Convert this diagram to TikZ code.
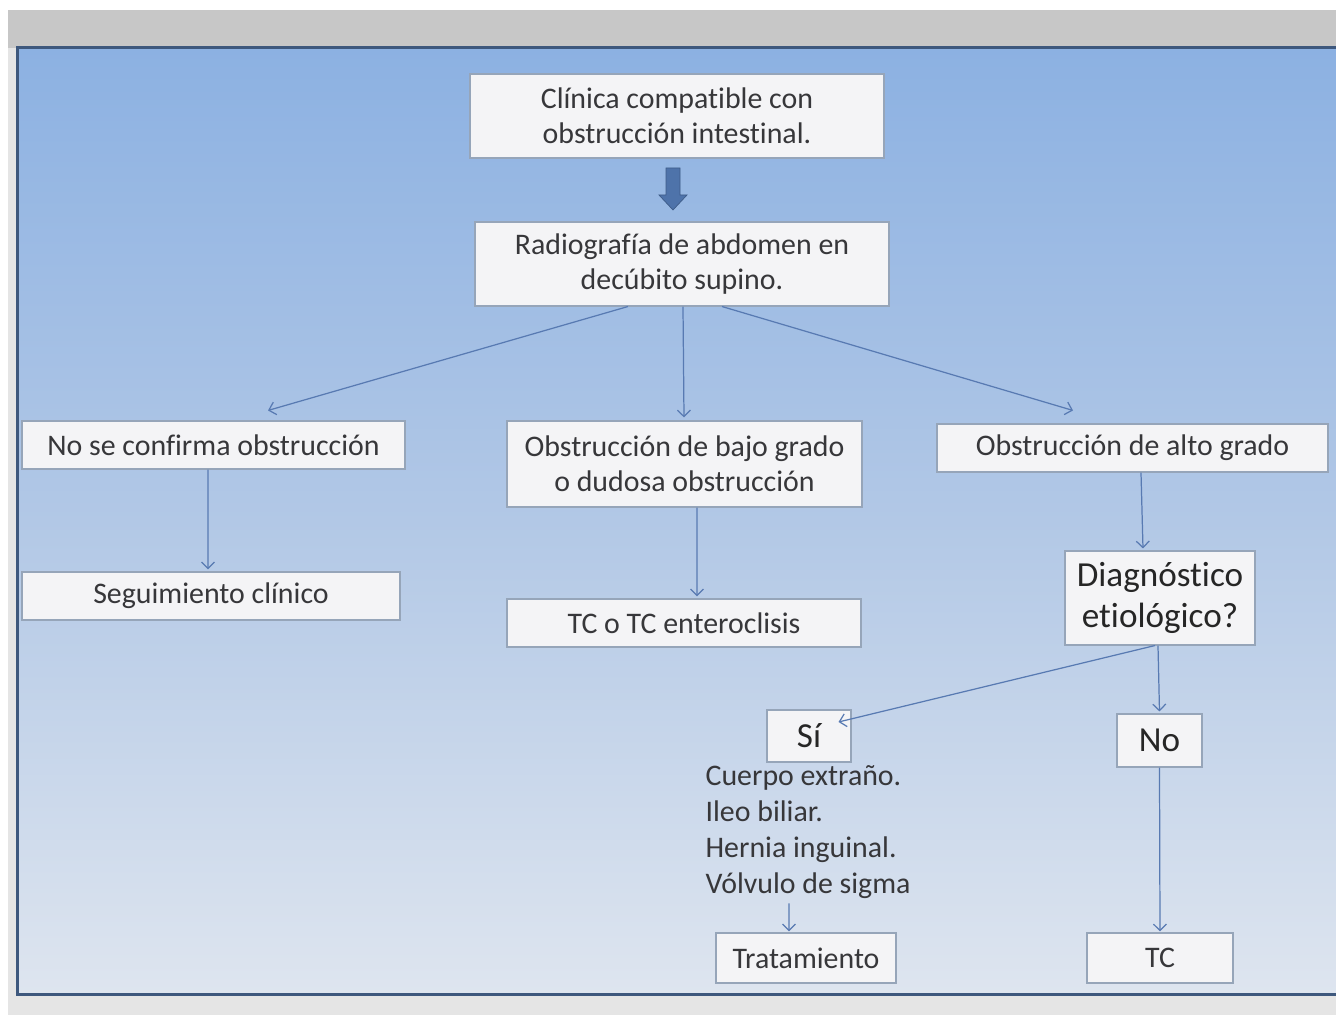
\documentclass[tikz,border=0pt]{standalone}
\usepackage{fontspec}
\setmainfont{Carlito}[Ligatures=NoCommon]
\usetikzlibrary{arrows.meta}
\definecolor{panelTop}{RGB}{140,177,226}
\definecolor{panelMid}{RGB}{178,200,230}
\definecolor{panelBot}{RGB}{222,229,239}
\definecolor{panelLine}{RGB}{62,88,125}
\definecolor{boxFill}{RGB}{244,244,246}
\definecolor{boxLine}{RGB}{150,165,185}
\definecolor{txtGrey}{RGB}{55,55,58}
\definecolor{linkBlue}{RGB}{88,122,178}
\definecolor{blockBlue}{RGB}{78,115,170}

\begin{document}
\begin{tikzpicture}[x=0.2mm, y=-0.2mm, ->, >={Straight Barb[length=1.3mm,width=2.6mm]}, line width=0.7pt]
  \tikzset{box/.style={draw=boxLine, fill=boxFill, text=txtGrey, align=center, inner sep=0pt, line width=0.6pt, font=\fontsize{17}{20}\selectfont},
           bigbox/.style={box, font=\fontsize{20}{23}\selectfont, text=black!85},
           link/.style={draw=linkBlue}}
  \useasboundingbox (0,0) rectangle (1336,1015);

  % background and panel
  \fill[black!10] (0,0) rectangle (1336,1015);
  \fill[white] (0,0) rectangle (1336,10);
  \fill[white] (0,0) rectangle (8,1015);
  \fill[black!22] (8,10) rectangle (1336,48);
  \shade[top color=panelTop, bottom color=panelBot, middle color=panelMid, draw=panelLine, line width=0.6mm, -] (17,48) rectangle (1345,995);

  % block arrow
  \filldraw[fill=blockBlue, draw=blockBlue!80!black, line width=0.4pt, -] (666,168) -- (680,168) -- (680,195) -- (687,195) -- (673,210) -- (659,195) -- (666,195) -- cycle;

  \node[box, minimum width=82.8mm, minimum height=16.8mm] (clinica) at (677,116) {Clínica compatible con\\obstrucción intestinal.};
  \node[box, minimum width=82.8mm, minimum height=16.8mm] (radio) at (682,264) {Radiografía de abdomen en\\decúbito supino.};
  \node[box, minimum width=76.6mm, minimum height=9.6mm] (noconf) at (213.5,445) {No se confirma obstrucción};
  \node[box, minimum width=71mm, minimum height=17.2mm] (bajo) at (684.5,464) {Obstrucción de bajo grado\\o dudosa obstrucción};
  \node[box, minimum width=78.2mm, minimum height=9.6mm] (alto) at (1132.5,448) {Obstrucción de alto grado};
  \node[box, minimum width=75.6mm, minimum height=9.6mm] (seguim) at (211,596) {Seguimiento clínico};
  \node[box, minimum width=70.8mm, minimum height=9.6mm] (tcentero) at (684,623) {TC o TC enteroclisis};
  \node[bigbox, minimum width=38mm, minimum height=18.8mm] (diag) at (1160,598) {Diagnóstico\\etiológico?};
  \node[bigbox, minimum width=16.8mm, minimum height=10.4mm] (si) at (809,736) {Sí};
  \node[bigbox, minimum width=17mm, minimum height=10.6mm] (no) at (1159.5,740.5) {No};
  \node[text=txtGrey, align=left, anchor=north west, inner sep=0pt, font=\fontsize{17}{20.5}\selectfont] (causas) at (705,765) {Cuerpo extraño.\\Ileo biliar.\\Hernia inguinal.\\Vólvulo de sigma};
  \node[box, minimum width=36mm, minimum height=10mm] (tratam) at (806,958) {Tratamiento};
  \node[box, minimum width=29.2mm, minimum height=10mm] (tc) at (1160,958) {TC};

  % connectors
  \draw[link] ([xshift=-10.8mm]radio.south) -- ([xshift=10.9mm, yshift=2mm]noconf.north);
  \draw[link] ([xshift=0.2mm]radio.south) -- ([xshift=-0.1mm, yshift=0.6mm]bajo.north);
  \draw[link] ([xshift=8mm]radio.south) -- ([xshift=-11.9mm, yshift=2.6mm]alto.north);
  \draw[link] ([xshift=-1.1mm]noconf.south) -- ([xshift=-0.6mm, yshift=0.4mm]seguim.north);
  \draw[link] ([xshift=2.5mm]bajo.south) -- ([xshift=2.6mm, yshift=0.4mm]tcentero.north);
  \draw[link] ([xshift=1.7mm]alto.south) -- ([xshift=-3.4mm, yshift=0.4mm]diag.north);
  \draw[link] ([xshift=-1mm]diag.south) -- ([xshift=-2.6mm, yshift=2.8mm]si.east);
  \draw[link] ([xshift=-0.4mm]diag.south) -- ([yshift=0.4mm]no.north);
  \draw[link] ([xshift=16.8mm, yshift=-0.8mm]causas.south west) -- ([xshift=-3.4mm, yshift=0.2mm]tratam.north);
  \draw[link] (no.south) -- ([yshift=0.2mm]tc.north);
\end{tikzpicture}
\end{document}
